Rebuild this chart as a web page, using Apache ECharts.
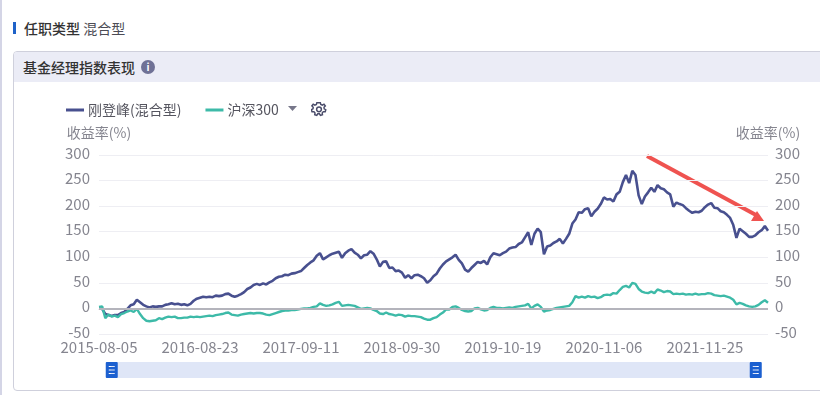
<!DOCTYPE html>
<html>
<head>
<meta charset="utf-8">
<script src="https://cdn.jsdelivr.net/npm/echarts@6/dist/echarts.min.js"></script>
<style>
html, body { margin: 0; padding: 0; background: #fff; overflow: hidden; }
body { width: 820px; height: 395px; position: relative; font-family: "Noto Sans CJK SC", sans-serif; color: #333; }
.edge { position: absolute; left: 0; top: 0; width: 2px; height: 395px; background: #d4d5e6; }
.mark { position: absolute; left: 13px; top: 22px; width: 3px; height: 12px; background: #1f62c8; }
.type { position: absolute; left: 24px; top: 19px; font-size: 14px; line-height: 18px; color: #4c4c55; white-space: pre; }
.type b { font-weight: 500; color: #333; }
.panel { position: absolute; left: 13px; top: 51px; width: 830px; height: 338px; border: 1px solid #cfd0dc; border-radius: 4px; box-sizing: content-box; }
.panel-head { height: 30px; background: #ebecf6; border-radius: 3px 3px 0 0; }
.panel-title { position: absolute; left: 9px; top: 6px; font-size: 14px; line-height: 18px; font-weight: 500; color: #333; }
.info { position: absolute; left: 127px; top: 8px; width: 14px; height: 14px; border-radius: 7px; background: #6f7196; color: #fff; font-size: 10px; line-height: 14px; text-align: center; font-weight: 700; }
#chart { position: absolute; left: 0; top: 0; width: 820px; height: 395px; }
.gear { position: absolute; left: 311px; top: 101px; width: 16px; height: 16px; }
</style>
</head>
<body>
<div class="edge"></div>
<div class="mark"></div>
<div class="type"><b>任职类型</b> 混合型</div>
<div class="panel">
    <div class="panel-head"></div>
    <div class="panel-title">基金经理指数表现</div>
    <div class="info">i</div>
</div>
<div id="chart"></div>
<svg class="gear" viewBox="0 0 24 24" fill="none" stroke="#4a4c6a" stroke-width="2.2">
    <path d="M12 2.5l2 0 .7 2.8 2.3 1 2.5-1.5 2 2.6-2 2 .3 2.3 2.4 1.4-.9 3-2.9-.1-1.6 1.8.4 2.9-3 .9-1.6-2.4h-2.4l-1.6 2.4-3-.9.4-2.9-1.6-1.8-2.9.1-.9-3 2.4-1.4.3-2.3-2-2 2-2.6 2.5 1.5 2.3-1 .7-2.8z"/>
    <circle cx="12" cy="12.5" r="3.6"/>
</svg>
<script>
var seriesNames = ['刚登峰(混合型)', '沪深300'];
var yAxisName = '收益率(%)';

// one point every 12 days
var startDate = Date.UTC(2015, 7, 5);
var stepDays = 12;

var managerValues = [
    0, -1, -11, -13, -15, -13, -13, -9, -7, -1, 6, 8, 17, 12, 7, 4, 2, 4, 3, 4, 4, 7, 8, 10, 8, 9, 7, 8, 6, 9, 15, 19,
    21, 23, 22, 23, 22, 25, 24, 25, 28, 29, 25, 23, 25, 28, 32, 38, 41, 46, 48, 46, 49, 47, 51, 54, 59, 62, 63, 66, 65, 68, 69, 71,
    73, 79, 85, 90, 94, 103, 108, 96, 100, 104, 107, 109, 111, 99, 108, 113, 116, 109, 105, 98, 104, 105, 112, 107, 96, 82, 91, 92, 79, 80, 73, 74,
    70, 60, 65, 59, 65, 66, 63, 59, 50, 55, 63, 68, 78, 86, 92, 96, 100, 105, 95, 88, 76, 72, 79, 85, 91, 89, 93, 86, 100, 108, 106, 104,
    108, 111, 117, 119, 120, 126, 129, 139, 149, 124, 146, 156, 149, 106, 121, 123, 128, 131, 136, 127, 136, 146, 166, 174, 188, 187, 194, 196, 180, 189, 195, 204,
    217, 213, 214, 209, 223, 228, 247, 261, 245, 269, 261, 221, 204, 219, 227, 236, 228, 241, 235, 233, 227, 223, 199, 207, 204, 202, 196, 191, 187, 189, 188, 191,
    198, 203, 206, 197, 196, 190, 188, 183, 177, 163, 138, 156, 151, 146, 140, 140, 143, 149, 153, 161, 152
];

var indexValues = [
    3, 4, -19, -12, -16, -14, -17, -11, -9, -6, -4, -7, -1, -11, -19, -24, -25, -24, -23, -19, -21, -18, -16, -17, -16, -19, -19, -18, -18, -16, -17, -16,
    -17, -16, -15, -14, -15, -13, -12, -11, -9, -8, -12, -13, -14, -12, -11, -10, -9, -10, -9, -9, -10, -12, -13, -11, -9, -7, -5, -4, -4, -3, -3, -2,
    -1, 0, 0, 1, 3, 4, 10, 7, 5, 6, 8, 11, 13, 5, 6, 7, 6, 5, 2, -1, 0, 1, 0, -3, -5, -10, -11, -8, -11, -12, -14, -12,
    -13, -16, -14, -15, -15, -16, -17, -20, -22, -22, -19, -17, -12, -8, -2, -2, 3, 4, 1, -3, -5, -6, -5, 0, 1, -2, -4, -3, 1, 3, 1, 1,
    0, 1, 2, 1, 3, 4, 5, 6, 9, 0, 5, 8, 3, -6, -4, -3, -1, 1, 2, 3, 4, 5, 12, 24, 21, 23, 21, 24, 22, 23, 20, 22,
    26, 27, 26, 30, 29, 36, 42, 44, 41, 50, 48, 38, 33, 31, 30, 33, 30, 37, 35, 32, 34, 33, 28, 29, 28, 29, 27, 28, 27, 29, 27, 28,
    28, 30, 29, 26, 25, 24, 25, 23, 21, 17, 8, 11, 9, 6, 4, 3, 4, 7, 12, 16, 11
];

var categories = [];
for (var i = 0; i < managerValues.length; i++) {
    categories.push(new Date(startDate + i * stepDays * 86400000).toISOString().slice(0, 10));
}

var labelColor = '#85858f';
var fontFamily = '"Noto Sans CJK SC", sans-serif';

function makeYAxis(margin) {
    return {
        type: 'value',
        min: -50,
        max: 300,
        interval: 50,
        name: yAxisName,
        nameGap: 15,
        nameTextStyle: { color: labelColor, fontSize: 14, fontFamily: fontFamily },
        axisLine: { show: false },
        axisTick: { show: false },
        // labels sit a little above their grid line
        axisLabel: { color: labelColor, fontSize: 15, margin: margin, verticalAlign: 'bottom', lineHeight: 4, fontFamily: fontFamily },
        splitLine: { show: true, lineStyle: { color: '#eeeef3', width: 1 } }
    };
}

var myChart = echarts.init(document.getElementById('chart'), null, { renderer: 'canvas' });

myChart.setOption({
    animation: false,
    backgroundColor: 'transparent',
    legend: {
        left: 61,
        top: 98,
        itemWidth: 18,
        itemHeight: 3,
        itemGap: 24,
        icon: 'rect',
        data: seriesNames,
        textStyle: { color: '#55555f', fontSize: 14, fontFamily: fontFamily, padding: [0, 0, 0, -1] }
    },
    grid: { left: 99, right: 52, top: 155, height: 179 },
    xAxis: {
        type: 'category',
        boundaryGap: false,
        data: categories,
        axisLine: { show: false },
        axisTick: { show: false },
        splitLine: { show: false },
        axisLabel: {
            color: labelColor,
            fontSize: 15,
            margin: 6,
            interval: function (index) {
                return index % 32 === 0;
            },
            hideOverlap: false,
            fontFamily: fontFamily
        }
    },
    yAxis: [makeYAxis(9), makeYAxis(7)],
    dataZoom: [{
        type: 'slider',
        xAxisIndex: 0,
        start: 0,
        end: 100,
        left: 110,
        right: 64,
        top: 362,
        height: 16,
        showDetail: false,
        showDataShadow: false,
        brushSelect: false,
        moveHandleSize: 0,
        borderColor: 'transparent',
        backgroundColor: 'transparent',
        fillerColor: '#dfe6f7',
        handleIcon: 'path://M1 0H11Q12 0 12 1V15Q12 16 11 16H1Q0 16 0 15V1Q0 0 1 0Z M3 4V5H9V4Z M3 7.5V8.5H9V7.5Z M3 11V12H9V11Z',
        handleSize: '100%',
        handleStyle: { color: '#1c60d0', borderColor: '#1c60d0', borderWidth: 0 }
    }],
    series: [{
        name: seriesNames[0],
        type: 'line',
        data: managerValues,
        showSymbol: false,
        lineStyle: { color: '#48508f', width: 2.6 },
        itemStyle: { color: '#48508f' }
    }, {
        name: seriesNames[1],
        type: 'line',
        data: indexValues,
        showSymbol: false,
        lineStyle: { color: '#3dbaa8', width: 2.4 },
        itemStyle: { color: '#3dbaa8' },
        // zero line sits on top of the curves
        markLine: {
            silent: true,
            symbol: 'none',
            label: { show: false },
            lineStyle: { color: '#b4b4bc', width: 2, type: 'solid' },
            data: [{ yAxis: 0 }]
        }
    }],
    graphic: [
        // legend dropdown
        { type: 'polygon', shape: { points: [[288, 106], [297, 106], [292.5, 111]] }, style: { fill: '#77778a' } },
        // hand drawn red arrow
        { type: 'line', shape: { x1: 647, y1: 156, x2: 756, y2: 215 }, style: { stroke: '#ef5350', lineWidth: 4 } },
        { type: 'polygon', shape: { points: [[757, 211], [751, 221], [764, 221]] }, style: { fill: '#ef5350' } }
    ]
});
</script>
</body>
</html>
